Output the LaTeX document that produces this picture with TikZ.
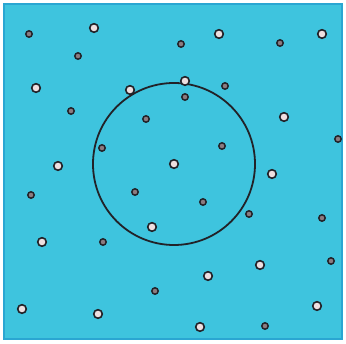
\documentclass[tikz,border=0pt]{standalone}
\definecolor{bgblue}{HTML}{3EC4DE}
\definecolor{edgeblue}{HTML}{2AA6D2}
\definecolor{dotfill}{HTML}{EEDFE0}
\definecolor{dotdark}{HTML}{8C7C80}
\definecolor{ink}{HTML}{222228}
\tikzset{
  big/.style={circle,draw=ink,line width=1.6pt,fill=dotfill,inner sep=0pt,minimum size=8.6pt},
  small/.style={circle,draw=ink,line width=1.5pt,fill=dotdark,inner sep=0pt,minimum size=6.4pt},
  ring/.style={circle,draw=ink,line width=1.8pt,inner sep=0pt,minimum size=162pt}
}
\begin{document}
\begin{tikzpicture}[x=1pt,y=-1pt]
\useasboundingbox (0,0) rectangle (346,344);
\fill[white] (0,0) rectangle (346,344);
\filldraw[fill=bgblue,draw=edgeblue,line width=2.5pt] (4,4) rectangle (342,339);
\node[ring] (ring) at (174,164) {};
% dots
\node[small] (d1) at (29,34) {};
\node[big] (d2) at (94,28) {};
\node[small] (d3) at (181,44) {};
\node[big] (d4) at (219,34) {};
\node[small] (d5) at (280,43) {};
\node[big] (d6) at (322,34) {};
\node[small] (d7) at (78,56) {};
\node[big] (d8) at (36,88) {};
\node[big] (d9) at (130,90) {};
\node[big] (d10) at (185,81) {};
\node[small] (d11) at (225,86) {};
\node[small] (d12) at (185,97) {};
\node[small] (d13) at (71,111) {};
\node[small] (d14) at (146,119) {};
\node[big] (d15) at (284,117) {};
\node[small] (d16) at (338,139) {};
\node[small] (d17) at (102,148) {};
\node[small] (d18) at (222,146) {};
\node[big] (d19) at (58,166) {};
\node[big] (d20) at (174,164) {};
\node[big] (d21) at (272,174) {};
\node[small] (d22) at (31,195) {};
\node[small] (d23) at (135,192) {};
\node[small] (d24) at (203,202) {};
\node[small] (d25) at (249,214) {};
\node[small] (d26) at (322,218) {};
\node[big] (d27) at (152,227) {};
\node[big] (d28) at (42,242) {};
\node[small] (d29) at (103,242) {};
\node[small] (d30) at (331,261) {};
\node[big] (d31) at (260,265) {};
\node[big] (d32) at (208,276) {};
\node[small] (d33) at (155,291) {};
\node[big] (d34) at (317,306) {};
\node[big] (d35) at (22,309) {};
\node[big] (d36) at (98,314) {};
\node[big] (d37) at (200,327) {};
\node[small] (d38) at (265,326) {};
\end{tikzpicture}
\end{document}
